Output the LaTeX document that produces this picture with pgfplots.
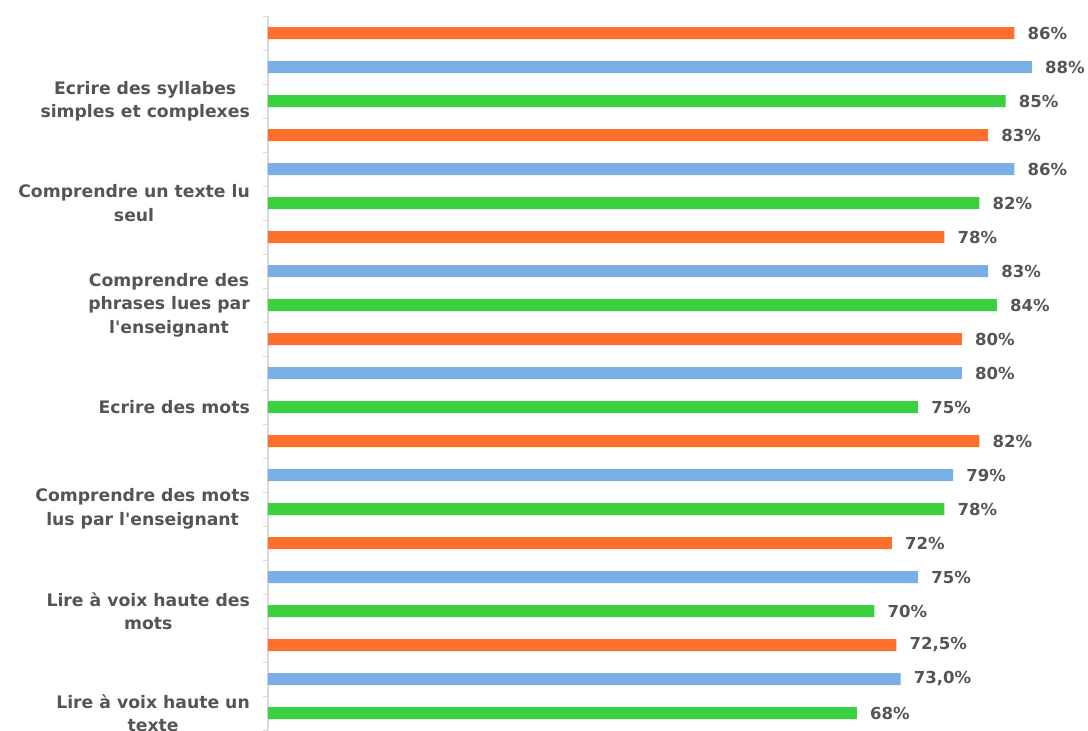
\documentclass[border=0pt]{standalone}
\usepackage{fontspec}
\setmainfont{DejaVu Sans}
\usepackage{pgfplots}
\pgfplotsset{compat=1.18}

\definecolor{barorange}{HTML}{FF6F2C}
\definecolor{barblue}{HTML}{7AAEE6}
\definecolor{bargreen}{HTML}{3AD040}
\definecolor{axisgray}{HTML}{D9D9D9}
\definecolor{textgray}{HTML}{555555}

\begin{document}
\begin{tikzpicture}
\begin{axis}[
    name=ax,
    scale only axis,
    width=820bp, height=714bp,
    xmin=0.7, xmax=94.4,
    ymin=0.5, ymax=21.5,
    y dir=reverse,
    axis x line=none,
    axis y line*=left,
    y axis line style={draw=axisgray, line width=1.2bp, -},
    ytick={0.5,1.5,...,21.5},
    yticklabels={},
    tick align=outside,
    major tick length=5bp,
    tick style={draw=axisgray, line width=1bp},
    extra y ticks={3,6,9,12,15,18,21},
    extra y tick labels={
        {Ecrire des syllabes\\simples et complexes},
        {Comprendre un texte lu\\seul},
        {Comprendre des\\phrases lues par\\l\textquotesingle enseignant},
        {Ecrire des mots},
        {Comprendre des mots\\lus par l\textquotesingle enseignant},
        {Lire à voix haute des\\mots},
        {Lire à voix haute un\\texte}},
    extra y tick style={major tick length=0pt,
        yticklabel style={align=center, inner sep=0pt, xshift=-18bp}},
    yticklabel style={font=\bfseries\fontsize{17.3}{23.5}\selectfont, text=textgray},
    xbar, bar shift=0pt, bar width=12bp,
    point meta=explicit symbolic,
    nodes near coords,
    nodes near coords style={anchor=west, inner sep=0pt, xshift=13bp,
        font=\bfseries\fontsize{16.6}{20}\selectfont, text=textgray},
]
% orange series
\addplot[fill=barorange, draw=none] coordinates {
    (86,1) [86\%]
    (83,4) [83\%]
    (78,7) [78\%]
    (80,10) [80\%]
    (82,13) [82\%]
    (72,16) [72\%]
    (72.5,19) [{72,5\%}]
};
% blue series
\addplot[fill=barblue, draw=none] coordinates {
    (88,2) [88\%]
    (86,5) [86\%]
    (83,8) [83\%]
    (80,11) [80\%]
    (79,14) [79\%]
    (75,17) [75\%]
    (73,20) [{73,0\%}]
};
% green series
\addplot[fill=bargreen, draw=none] coordinates {
    (85,3) [85\%]
    (82,6) [82\%]
    (84,9) [84\%]
    (75,12) [75\%]
    (78,15) [78\%]
    (70,18) [70\%]
    (68,21) [68\%]
};
\end{axis}
\pgfresetboundingbox
\path[use as bounding box] ([shift={(-268bp,-1bp)}]ax.south west)
    rectangle ([shift={(820bp,16bp)}]ax.north west);
\end{tikzpicture}
\end{document}
